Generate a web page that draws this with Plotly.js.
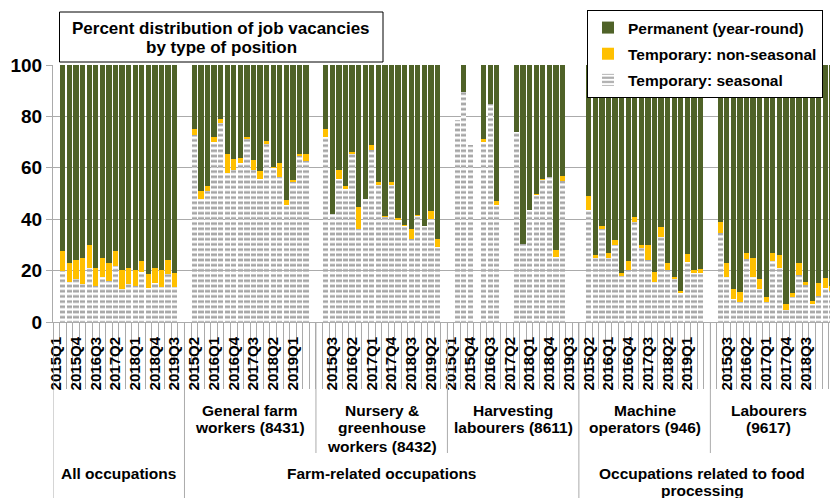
<!DOCTYPE html>
<html>
<head>
<meta charset="utf-8">
<script src="https://cdn.plot.ly/plotly-3.0.1.min.js"></script>
<style>
  html, body { margin: 0; padding: 0; background: #fff; overflow: hidden; }
  #chart { width: 830px; height: 498px; }
</style>
</head>
<body>
<div id="chart"></div>
<script>
// quarters per occupation group (2015Q1 ... 2019Q3)
const quarters = ['2015Q1','2015Q2','2015Q3','2015Q4','2016Q1','2016Q2','2016Q3','2016Q4',
  '2017Q1','2017Q2','2017Q3','2017Q4','2018Q1','2018Q2','2018Q3','2018Q4','2019Q1','2019Q2','2019Q3'];

// All occupations
const allSeas = [null, 19.8, 15.7, 16.8, 14.9, 21.1, 14.0, 17.6, 15.8, 21.7, 13.0, 14.9, 14.0, 19.4, 13.2, 15.0, 13.7, 18.5, 13.6];
const allTemp = [null, 8.0, 7.1, 7.3, 10.1, 8.8, 7.0, 7.4, 7.0, 6.1, 7.1, 6.1, 6.4, 4.4, 5.6, 6.0, 6.4, 5.7, 5.6];
const allPerm = [null, 72.2, 77.2, 75.9, 75.0, 70.1, 79.0, 75.0, 77.2, 72.2, 79.9, 79.0, 79.6, 76.2, 81.2, 79.0, 79.9, 75.8, 80.8];

// General farm workers (8431)
const farmSeas = [null, 72.8, 48.0, 50.8, 70.0, 77.6, 58.0, 59.3, 61.9, 71.2, 59.0, 55.8, 69.3, 59.9, 56.3, 45.4, 54.6, 64.4, 62.7];
const farmTemp = [null, 2.2, 2.8, 2.2, 1.9, 1.3, 7.5, 4.2, 1.9, 0.7, 3.9, 3.1, 1.3, 0.6, 5.6, 2.2, 0.8, 1.1, 2.8];
const farmPerm = [null, 25.0, 49.2, 47.0, 28.1, 21.1, 34.5, 36.5, 36.2, 28.1, 37.1, 41.1, 29.4, 39.5, 38.1, 52.4, 44.6, 34.5, 34.5];

// Nursery & greenhouse workers (8432)
const nurSeas = [null, 71.9, 41.9, 55.8, 51.7, 65.4, 36.0, 47.8, 67.0, 53.3, 41.0, 53.5, 39.6, 37.5, 32.4, 41.1, 37.3, 39.9, 29.1];
const nurTemp = [null, 3.1, 0.3, 3.2, 1.3, 0.8, 8.8, 0.2, 2.0, 1.0, 0.1, 0.8, 0.9, 0.4, 3.6, 0.4, 0.2, 3.2, 3.3];
const nurPerm = [null, 25.0, 57.8, 41.0, 47.0, 33.8, 55.2, 52.0, 31.0, 45.7, 58.9, 45.7, 59.5, 62.1, 64.0, 58.5, 62.5, 56.9, 67.6];

// Harvesting labourers (8611)
const harvSeas = [null, 78.6, 89.6, 68.9, null, 70.2, 84.9, 45.7, null, null, 74.1, 30.2, 43.7, 49.5, 55.1, 56.6, 25.4, 54.7, null];
const harvTemp = [null, null, null, null, null, 1.2, null, 1.3, null, null, null, null, null, 0.4, 0.7, null, 2.5, 2.2, null];
const harvPerm = [null, null, 10.4, null, null, 28.6, 15.1, 53.0, null, null, 25.9, 69.8, 56.3, 50.1, 44.2, 43.4, 72.1, 43.1, null];

// Machine operators (946)
const machSeas = [null, 43.7, 25.0, 36.0, 25.0, 29.9, 17.9, 20.2, 38.8, 28.9, 24.1, 15.7, 33.1, 20.2, 16.6, 11.4, 23.3, 18.9, 19.0];
const machTemp = [null, 5.4, 0.9, 1.3, 1.9, 2.2, 1.0, 3.7, 2.1, 1.0, 5.8, 3.9, 3.8, 2.6, 0.9, 0.6, 3.0, 1.3, 1.5];
const machPerm = [null, 50.9, 74.1, 62.7, 73.1, 67.9, 81.1, 76.1, 59.1, 70.1, 70.1, 80.4, 63.1, 77.2, 82.5, 88.0, 73.7, 79.8, 79.5];

// Labourers (9617)
const labSeas = [null, 34.7, 17.6, 9.1, 7.8, 24.7, 17.6, 13.0, 7.9, 23.9, 21.1, 4.7, 9.9, 18.2, 14.4, 6.9, 10.1, 13.1, 12.0];
const labTemp = [null, 4.1, 5.2, 3.9, 3.8, 2.0, 7.4, 3.8, 2.0, 2.8, 4.8, 2.2, 1.2, 4.6, 1.3, 1.3, 4.9, 4.1, 2.2];
const labPerm = [null, 61.2, 77.2, 87.0, 88.4, 73.3, 75.0, 83.2, 90.1, 73.3, 74.1, 93.1, 88.9, 77.2, 84.3, 91.8, 85.0, 82.8, 85.8];

const seasGroups = [allSeas, farmSeas, nurSeas, harvSeas, machSeas, labSeas];
const tempGroups = [allTemp, farmTemp, nurTemp, harvTemp, machTemp, labTemp];
const permGroups = [allPerm, farmPerm, nurPerm, harvPerm, machPerm, labPerm];

// each group takes 20 slots on the category axis (19 quarters + a blank)
const SLOTS = 20;
const xPos = [];
seasGroups.forEach((g, gi) => quarters.forEach((q, qi) => xPos.push(gi * SLOTS + qi)));
const flat = arr => [].concat(...arr);

const FONT = 'Liberation Sans, Arial, sans-serif';
const GRID = '#ababab';

const traces = [
    {
        name: 'Temporary: seasonal', type: 'bar', x: xPos, y: flat(seasGroups),
        legendgroup: 'c', legendrank: 3,
        marker: { color: '#ffffff', line: { width: 0 },
            pattern: { shape: '-', fgcolor: '#a6a6a6', bgcolor: '#ffffff', size: 5.2, solidity: 0.5 } }
    },
    {
        name: 'Temporary: non-seasonal', type: 'bar', x: xPos, y: flat(tempGroups),
        legendgroup: 'b', legendrank: 2, marker: { color: '#ffc000', line: { width: 0 } }
    },
    {
        name: 'Permanent (year-round)', type: 'bar', x: xPos, y: flat(permGroups),
        legendgroup: 'a', legendrank: 1, marker: { color: '#4f6228', line: { width: 0 } }
    }
];

// tick labels every 3rd slot
const tickvals = [], ticktext = [];
for (let s = 0; s < 6 * SLOTS; s += 3) {
    tickvals.push(s);
    ticktext.push(quarters[s % SLOTS] || '');
}

// pixel helpers for the frame outside the plot area
const L = 53, T = 65, PW = 777, PH = 257;
const px = x => (x - L) / PW;
const py = y => (T + PH - y) / PH;

const annotations = [];
const addText = (lines, x, yTop, size, step, xref) => {
    lines.forEach((t, i) => annotations.push({
        text: t, xref: xref || 'x', yref: 'paper', x: x, y: py(yTop + i * step),
        xanchor: 'center', yanchor: 'middle', showarrow: false,
        font: { family: FONT, size: size, color: '#000', weight: 'bold' }
    }));
};

// title
addText(['Percent distribution of job vacancies', 'by type of position'], px(221), 28, 17, 19, 'paper');
// second level labels
addText(['General farm', 'workers (8431)'], 29.5, 410, 15.5, 18);
addText(['Nursery &', 'greenhouse', 'workers (8432)'], 49.5, 410, 15.5, 18);
addText(['Harvesting', 'labourers (8611)'], 69.5, 410, 15.5, 18);
addText(['Machine', 'operators (946)'], 89.5, 410, 15.5, 18);
addText(['Labourers', '(9617)'], 108.4, 410, 15.5, 18);
// top level labels
addText(['All occupations'], 9.5, 473, 15.5, 18);
addText(['Farm-related occupations'], 49.5, 473, 15.5, 18);
addText(['Occupations related to food', 'processing'], 98.3, 473, 15.5, 18);

const shapes = [
    { type: 'rect', xref: 'paper', yref: 'paper', x0: px(59.5), x1: px(383), y0: py(62), y1: py(12),
      line: { color: '#000', width: 1 }, fillcolor: '#fff', layer: 'above' }
];
// group dividers below the axis
[[-0.5, 498], [19.5, 498], [39.5, 453], [59.5, 453], [79.5, 498], [99.5, 453]].forEach(d => {
    shapes.push({ type: 'line', xref: 'x', yref: 'paper', x0: d[0], x1: d[0], y0: 0, y1: py(d[1]),
        line: { color: GRID, width: 1 } });
});

const layout = {
    width: 830, height: 498,
    margin: { l: L, r: 0, t: T, b: 498 - T - PH, pad: 0 },
    paper_bgcolor: '#fff', plot_bgcolor: '#fff',
    barmode: 'stack', bargap: 0.2,
    showlegend: true,
    legend: {
        x: px(587), y: py(10), xanchor: 'left', yanchor: 'top',
        bgcolor: '#fff', bordercolor: '#000', borderwidth: 1,
        traceorder: 'grouped', tracegroupgap: 3,
        font: { family: FONT, size: 15.5, color: '#000', weight: 'bold' }
    },
    xaxis: {
        range: [-0.5, 117.7], showgrid: false, zeroline: false,
        showline: true, linecolor: GRID, linewidth: 1,
        tickmode: 'array', tickvals: tickvals, ticktext: ticktext, tickangle: -90,
        ticks: '', ticklabelstandoff: 8,
        tickfont: { family: FONT, size: 15, color: '#000', weight: 'bold' },
        minor: { tickmode: 'linear', tick0: 0.5, dtick: 1, ticks: 'outside', ticklen: 66,
                 tickcolor: GRID, tickwidth: 1, showgrid: false }
    },
    yaxis: {
        range: [0, 100], tickvals: [0, 20, 40, 60, 80, 100],
        showgrid: true, gridcolor: GRID, gridwidth: 1, zeroline: false,
        showline: true, linecolor: GRID, linewidth: 1,
        ticks: 'outside', ticklen: 6, tickcolor: GRID,
        tickfont: { family: FONT, size: 19, color: '#000', weight: 'bold' }
    },
    shapes: shapes,
    annotations: annotations
};

Plotly.newPlot('chart', traces, layout, { staticPlot: true });
</script>
</body>
</html>
